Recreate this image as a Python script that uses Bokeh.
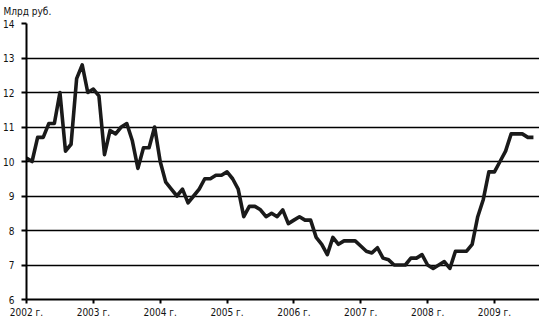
from bokeh.plotting import figure
from bokeh.models import FixedTicker, Range1d
from bokeh.embed import file_html
from bokeh.resources import INLINE

FONT = "'Liberation Sans Narrow', 'Arial Narrow', 'DejaVu Sans Condensed', sans-serif"

start_year = 2002
values = [
    10.1, 10.0, 10.7, 10.7, 11.1, 11.1, 12.0, 10.3, 10.5, 12.4, 12.8, 12.0,
    12.1, 11.9, 10.2, 10.9, 10.8, 11.0, 11.1, 10.6, 9.8, 10.4, 10.4, 11.0,
    10.0, 9.4, 9.2, 9.0, 9.2, 8.8, 9.0, 9.2, 9.5, 9.5, 9.6, 9.6,
    9.7, 9.5, 9.2, 8.4, 8.7, 8.7, 8.6, 8.4, 8.5, 8.4, 8.6, 8.2,
    8.3, 8.4, 8.3, 8.3, 7.8, 7.6, 7.3, 7.8, 7.6, 7.7, 7.7, 7.7,
    7.55, 7.4, 7.35, 7.5, 7.2, 7.15, 7.0, 7.0, 7.0, 7.2, 7.2, 7.3,
    7.0, 6.9, 7.0, 7.1, 6.9, 7.4, 7.4, 7.4, 7.6, 8.4, 8.9, 9.7,
    9.7, 10.0, 10.3, 10.8, 10.8, 10.8, 10.7, 10.7,
]
months = [start_year + i / 12 for i in range(len(values))]

year_ticks = [2002, 2003, 2004, 2005, 2006, 2007, 2008, 2009]
year_labels = ["2002 г.", "2003 г.", "2004 г.", "2005 г.", "2006 г.", "2007 г.", "2008 г.", "2009 г."]
y_ticks = [6, 7, 8, 9, 10, 11, 12, 13, 14]
unit_label = "Млрд руб."

p = figure(width=539, height=324, output_backend="svg", toolbar_location=None,
           x_range=Range1d(2002, 2009.674), y_range=Range1d(6, 14),
           min_border_left=26, min_border_right=0, min_border_top=23, min_border_bottom=25,
           title=unit_label)
p.outline_line_color = None
p.background_fill_color = "white"
p.border_fill_color = "white"

p.title.text_font = FONT
p.title.text_font_size = "10px"
p.title.text_font_style = "normal"
p.title.text_color = "#111111"
p.title.align = "left"
p.title.vertical_align = "top"
p.title.offset = -23
p.title.standoff = 9

p.line(months, values, line_color="#1a1a1a", line_width=3.6, line_join="round")

p.xaxis.ticker = FixedTicker(ticks=year_ticks)
p.xaxis.major_label_overrides = {t: l for t, l in zip(year_ticks, year_labels)}
p.yaxis.ticker = FixedTicker(ticks=y_ticks)

for ax in (p.xaxis, p.yaxis):
    ax.axis_line_color = "black"
    ax.axis_line_width = 2
    ax.major_tick_line_color = "black"
    ax.major_tick_line_width = 2
    ax.major_tick_in = 0
    ax.minor_tick_line_color = None
    ax.major_label_text_font = FONT
    ax.major_label_text_font_size = "10px"
    ax.major_label_text_color = "#111111"
p.xaxis.major_tick_out = 4
p.xaxis.major_label_standoff = 3
p.yaxis.major_tick_out = 5
p.yaxis.major_label_standoff = 7

p.xgrid.grid_line_color = None
p.ygrid.ticker = FixedTicker(ticks=[7, 8, 9, 10, 11, 12, 13, 14])
p.ygrid.grid_line_color = "black"
p.ygrid.grid_line_width = 1.6
p.ygrid.grid_line_alpha = 1.0

open("out.html", "w").write(file_html(p, INLINE))
